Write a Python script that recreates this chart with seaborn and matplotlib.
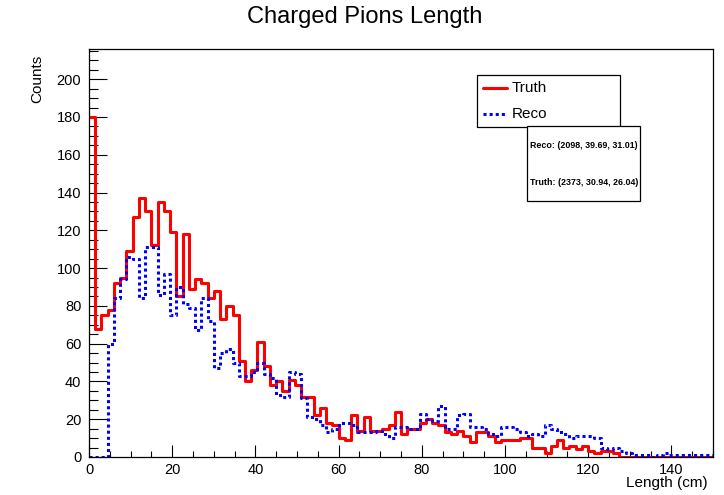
import numpy as np
import pandas as pd
import seaborn as sns
import matplotlib.pyplot as plt
from matplotlib.ticker import MultipleLocator
from matplotlib.patches import Rectangle
from matplotlib.lines import Line2D

# Histogram binning: 100 bins of 1.5 cm between 0 and 150 cm
length_min, length_max, n_bins = 0.0, 150.0, 100

# Bin contents (counts per bin) for the two samples
truth_counts = [
    180, 68, 75, 78, 92, 95, 109, 127, 137, 130,
    112, 135, 130, 119, 85, 118, 89, 94, 92, 84,
    88, 73, 80, 75, 51, 40, 46, 61, 48, 38,
    40, 35, 41, 38, 32, 32, 22, 26, 18, 17,
    10, 9, 22, 14, 21, 14, 14, 15, 17, 24,
    12, 15, 15, 18, 20, 18, 17, 13, 12, 14,
    11, 8, 13, 13, 11, 8, 9, 9, 9, 10,
    10, 5, 5, 2, 6, 9, 5, 6, 4, 6,
    3, 2, 3, 3, 2, 0, 0, 0, 0, 0,
    0, 0, 0, 0, 0, 0, 0, 0, 0, 0,
]
reco_counts = [
    0, 0, 0, 60, 84, 94, 106, 105, 84, 111,
    111, 86, 97, 75, 90, 81, 79, 67, 84, 72,
    47, 55, 57, 50, 43, 43, 45, 50, 44, 42,
    33, 32, 45, 44, 31, 21, 20, 17, 13, 15,
    18, 18, 17, 13, 13, 13, 14, 12, 10, 16,
    16, 15, 15, 23, 20, 19, 27, 15, 15, 22,
    23, 16, 16, 15, 12, 11, 16, 16, 15, 13,
    11, 12, 11, 17, 15, 13, 12, 10, 11, 11,
    11, 10, 5, 4, 5, 3, 2, 1, 1, 1,
    0, 1, 2, 1, 1, 1, 1, 1, 1, 1,
]
sample_names = ["Truth", "Reco"]
sample_colors = ["#ff0000", "#0000ff"]
stats_lines = ["Reco: (2098, 39.69, 31.01)", "Truth: (2373, 30.94, 26.04)"]

edges = np.linspace(length_min, length_max, n_bins + 1)
centers = 0.5 * (edges[:-1] + edges[1:])
df = pd.DataFrame({
    "length": np.concatenate([centers, centers]),
    "counts": truth_counts + reco_counts,
    "sample": [sample_names[0]] * n_bins + [sample_names[1]] * n_bins,
})

sns.set_theme(style="ticks")
plt.rcParams["font.family"] = ["Liberation Sans", "DejaVu Sans"]
plt.rcParams.update({
    "text.color": "black",
    "axes.labelcolor": "black",
    "xtick.color": "black",
    "ytick.color": "black",
    "xtick.labelcolor": "black",
    "ytick.labelcolor": "black",
    "axes.edgecolor": "black",
})

W, H = 724, 495
fig = plt.figure(figsize=(W / 100, H / 100), dpi=100)
fig.patch.set_facecolor("white")
ax = fig.add_axes([89 / W, 1 - 457 / H, (713 - 89) / W, (457 - 49) / H])

bin_list = edges.tolist()
sns.histplot(data=df[df["sample"] == "Truth"], x="length", weights="counts",
             bins=bin_list, element="step", fill=False, color=sample_colors[0],
             linewidth=2.2, ax=ax, zorder=3)
sns.histplot(data=df[df["sample"] == "Reco"], x="length", weights="counts",
             bins=bin_list, element="step", fill=False, color=sample_colors[1],
             linewidth=2.2, linestyle=(0, (1, 1)), ax=ax, zorder=4)

ax.set_xlim(length_min, length_max)
ax.set_ylim(0, 216)
ax.set_xlabel("")
ax.set_ylabel("")

ax.xaxis.set_major_locator(MultipleLocator(20))
ax.xaxis.set_minor_locator(MultipleLocator(5))
ax.yaxis.set_major_locator(MultipleLocator(20))
ax.yaxis.set_minor_locator(MultipleLocator(5))
ax.tick_params(axis="x", which="major", direction="in", length=8.6, width=0.8,
               labelsize=10.5, pad=4, color="black", labelcolor="black")
ax.tick_params(axis="x", which="minor", direction="in", length=4.3, width=0.8,
               color="black")
ax.tick_params(axis="y", which="major", direction="in", length=13, width=0.8,
               labelsize=10.5, pad=5.5, color="black", labelcolor="black")
ax.tick_params(axis="y", which="minor", direction="in", length=6.5, width=0.8,
               color="black")
for side in ["left", "right", "top", "bottom"]:
    ax.spines[side].set_visible(True)
    ax.spines[side].set_color("black")
    ax.spines[side].set_linewidth(0.9)
    ax.spines[side].set_zorder(5)

# Title and axis titles
fig.text(365 / W, 1 - 17 / H, "Charged Pions Length", ha="center", va="center",
         fontsize=17, color="black")
fig.text(708 / W, 1 - 483 / H, "Length (cm)", ha="right", va="center",
         fontsize=11, color="black")
fig.text(37 / W, 1 - 55 / H, "Counts", ha="center", va="top", rotation=90,
         fontsize=11, color="black")


def px(x, y):
    return x / W, 1 - y / H


# Legend box
lx0, ly0, lx1, ly1 = 477, 75, 620, 127
fig.add_artist(Rectangle(px(lx0, ly1), (lx1 - lx0) / W, (ly1 - ly0) / H,
                         transform=fig.transFigure, facecolor="white",
                         edgecolor="black", linewidth=0.9, zorder=10))
for i, (name, col) in enumerate(zip(sample_names, sample_colors)):
    yrow = 88 + 26 * i
    ls = "-" if i == 0 else (0, (1, 1))
    fig.add_artist(Line2D([483 / W, 507 / W], [1 - yrow / H] * 2,
                          transform=fig.transFigure, color=col, linewidth=2.2,
                          linestyle=ls, zorder=11))
    fig.text(512 / W, 1 - yrow / H, name, ha="left", va="center", fontsize=11,
             color="black", zorder=11)

# Statistics box
sx0, sy0, sx1, sy1 = 527, 126, 640, 201
fig.add_artist(Rectangle(px(sx0, sy1), (sx1 - sx0) / W, (sy1 - sy0) / H,
                         transform=fig.transFigure, facecolor="white",
                         edgecolor="black", linewidth=0.9, zorder=12))
for i, line in enumerate(stats_lines):
    fig.text(530 / W, 1 - (146 + 37 * i) / H, line, ha="left", va="center",
             fontsize=6.4, fontweight="bold", color="black", zorder=13)

fig.savefig("out.png", dpi=100, facecolor="white")
